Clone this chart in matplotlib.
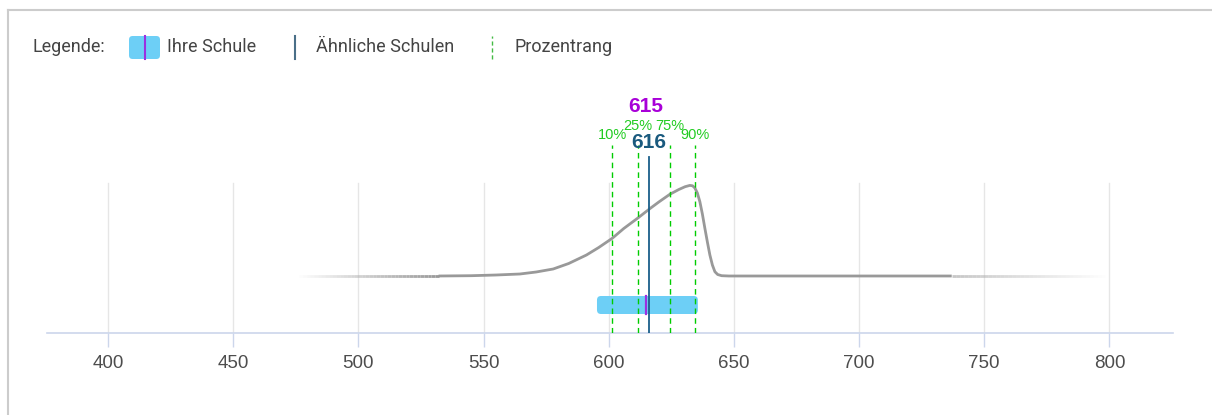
import numpy as np
import matplotlib.pyplot as plt
from matplotlib.patches import FancyBboxPatch
from matplotlib.collections import LineCollection
from matplotlib.lines import Line2D

# score distribution of similar schools (relative height above curve baseline)
curve_x = [475, 532, 545, 555, 564.5, 571, 577.8, 584, 591.1, 596, 601.4, 606,
           611.8, 616.5, 620, 624.4, 628, 630.5, 632.4, 633.5, 634.4, 635.4,
           636.4, 637.4, 638.4, 639.4, 640.4, 641.4, 642.4, 643.5, 645.1, 648,
           737, 800]
curve_h = [0, 0, 0.3, 1, 2, 4, 7, 12.5, 21, 28.5, 37.7, 47.5,
           58.3, 67.5, 74, 81.7, 86.5, 89.3, 90.6, 90.2, 88, 83,
           74.3, 62, 47.7, 34, 21, 11, 4.3, 1.5, 0.3, 0,
           0, 0]

# percentiles
pct_labels = ["10%", "25%", "75%", "90%"]
pct_values = [601.3, 611.7, 624.4, 634.4]

own_school = 615
similar_schools = 616
own_range = [595.3, 635.6]

ticks = [400, 450, 500, 550, 600, 650, 700, 750, 800]

fig = plt.figure(figsize=(12.12, 4.15), dpi=100)
W, H = 1212, 415
ax = fig.add_axes([47 / W, 82 / H, 1126 / W, 243 / H])
ax.set_xlim(375.6, 825.4)
ax.set_ylim(0, 243)

# y is in "pixels above the axis"
base = 57
cx = np.array(curve_x)
cy = base + np.array(curve_h)

# gridlines
for t in ticks:
    ax.plot([t, t], [0, 150], color="#e6e6e6", lw=1, zorder=0)

# main curve (solid part) and faded tails
solid = (cx >= 532) & (cx <= 737)
ax.plot(cx[solid], cy[solid], color="#999999", lw=2, zorder=2,
        solid_joinstyle="round", solid_capstyle="butt")
gray = np.array([0.6, 0.6, 0.6])
lx = np.linspace(475, 532, 40)
segs = [[(lx[i], base), (lx[i + 1], base)] for i in range(len(lx) - 1)]
cols = [(*gray, a) for a in np.linspace(0, 1, len(segs))]
ax.add_collection(LineCollection(segs, colors=cols, linewidths=2, zorder=2,
                                 capstyle="butt"))
rx = np.linspace(737, 800, 40)
segs = [[(rx[i], base), (rx[i + 1], base)] for i in range(len(rx) - 1)]
cols = [(*gray, a) for a in np.linspace(0.55, 0, len(segs))]
ax.add_collection(LineCollection(segs, colors=cols, linewidths=2, zorder=2,
                                 capstyle="butt"))

# own school range box
xs = 1126 / (825.4 - 375.6)
box = FancyBboxPatch((own_range[0], 19), own_range[1] - own_range[0], 18,
                     boxstyle="round,pad=0,rounding_size=%f" % (4 / xs),
                     mutation_aspect=xs, fc="#6dcff6", ec="none", zorder=3)
ax.add_patch(box)
ax.plot([own_school, own_school], [19, 37], color="#9b30e0", lw=1.6, zorder=4)

# percentile lines
for v in pct_values:
    ax.plot([v, v], [0, 188], color="#00cc00", lw=1, ls=(0, (4, 3)), zorder=4)
lab_y = [198, 207, 207, 198]
for lab, v, yy in zip(pct_labels, pct_values, lab_y):
    ax.text(v, yy, lab, color="#22cc22", fontsize=10.5, ha="center", va="center",
            family="Liberation Sans", zorder=5)

# similar schools line
ax.plot([similar_schools, similar_schools], [0, 176], color="#1a5f8a", lw=1.3, zorder=5)
ax.text(similar_schools, 191, str(similar_schools), color="#1a5a7e", fontsize=15,
        fontweight="bold", ha="center", va="center", family="Liberation Sans", zorder=6)
ax.text(similar_schools - 1.2, 226, str(own_school), color="#a800d8", fontsize=15,
        fontweight="bold", ha="center", va="center", family="Liberation Sans", zorder=6)

# axes styling
for s in ["top", "right", "left"]:
    ax.spines[s].set_visible(False)
ax.spines["bottom"].set_color("#ccd6eb")
ax.spines["bottom"].set_linewidth(1.2)
ax.set_yticks([])
ax.set_xticks(ticks)
ax.tick_params(axis="x", length=10, color="#ccd6eb", width=1, pad=6,
               labelsize=13.5, labelcolor="#4d4d4d")
for lbl in ax.get_xticklabels():
    lbl.set_family("Liberation Sans")

# legend
fy = 1 - 47 / H
lkw = dict(fontsize=13, color="#444444", family="Roboto", fontweight="normal", va="center")
fig.text(33 / W, fy, "Legende:", **lkw)
lg = FancyBboxPatch((129 / W, 1 - 59 / H), 31 / W, 23 / H,
                    boxstyle="round,pad=0,rounding_size=0.003", transform=fig.transFigure,
                    fc="#6dcff6", ec="none", mutation_aspect=W / H)
fig.patches.append(lg)
fig.add_artist(Line2D([145 / W, 145 / W], [1 - 59 / H, 1 - 36 / H], color="#9b30e0", lw=1.5))
fig.text(167 / W, fy, "Ihre Schule", **lkw)
fig.add_artist(Line2D([295 / W, 295 / W], [1 - 59 / H, 1 - 36 / H], color="#4a6f88", lw=1.5))
fig.text(316 / W, fy, "Ähnliche Schulen", **lkw)
fig.add_artist(Line2D([492 / W, 492 / W], [1 - 59 / H, 1 - 36 / H], color="#44bb44", lw=1,
                      ls=(0, (3, 2))))
fig.text(515 / W, fy, "Prozentrang", **lkw)

# frame border
fig.add_artist(Line2D([7.5 / W, 7.5 / W], [0, 1 - 10 / H], color="#cccccc", lw=1.5))
fig.add_artist(Line2D([7.5 / W, 1], [1 - 10 / H, 1 - 10 / H], color="#cccccc", lw=1.5))

fig.savefig("out.png", dpi=100)
